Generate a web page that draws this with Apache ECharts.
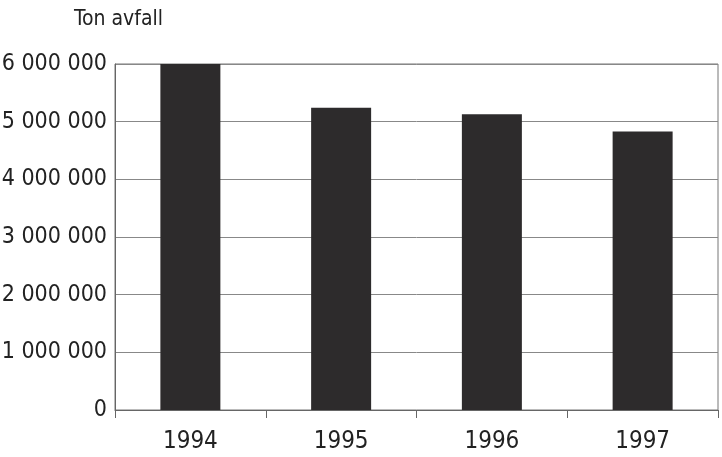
<!DOCTYPE html>
<html>
<head>
<meta charset="utf-8">
<script src="https://cdn.jsdelivr.net/npm/echarts@6/dist/echarts.min.js"></script>
<style>
  html, body { margin: 0; padding: 0; background: #fff; }
  #chart { width: 722px; height: 457px; }
</style>
</head>
<body>
<div id="chart"></div>
<script>
const years = ['1994', '1995', '1996', '1997']
const tonnes = [6000000, 5240000, 5130000, 4830000]
const yTicks = [0, 1000000, 2000000, 3000000, 4000000, 5000000, 6000000]

const font = '"Liberation Sans Narrow", "DejaVu Sans Condensed", sans-serif'

function fmt(v) {
  return String(v).replace(/\B(?=(\d{3})+(?!\d))/g, ' ')
}

const chart = echarts.init(document.getElementById('chart'))
chart.setOption({
  animation: false,
  backgroundColor: '#fff',
  title: {
    text: 'Ton avfall',
    left: 69,
    top: 4,
    textStyle: { fontFamily: font, fontSize: 21, fontWeight: 'normal', color: '#222' }
  },
  grid: {
    left: 115, right: 4, top: 64, bottom: 47,
    containLabel: false, outerBoundsMode: 'none',
    show: true, borderColor: '#777', borderWidth: 1
  },
  xAxis: {
    type: 'category',
    data: years,
    axisLine: { lineStyle: { color: '#666' } },
    axisTick: { show: true, length: 8, inside: false, lineStyle: { color: '#666' } },
    axisLabel: { fontFamily: font, fontSize: 24, color: '#222', margin: 20 }
  },
  yAxis: {
    type: 'value',
    min: yTicks[0],
    max: yTicks[yTicks.length - 1],
    interval: 1000000,
    axisLine: { show: true, lineStyle: { color: '#666' } },
    axisTick: { show: false },
    splitLine: { lineStyle: { color: '#888', width: 1 } },
    axisLabel: { fontFamily: font, fontSize: 23, color: '#222', margin: 8, formatter: fmt }
  },
  series: [{
    type: 'bar',
    data: tonnes,
    barWidth: 60,
    itemStyle: { color: '#2d2b2c' }
  }]
})
</script>
</body>
</html>
